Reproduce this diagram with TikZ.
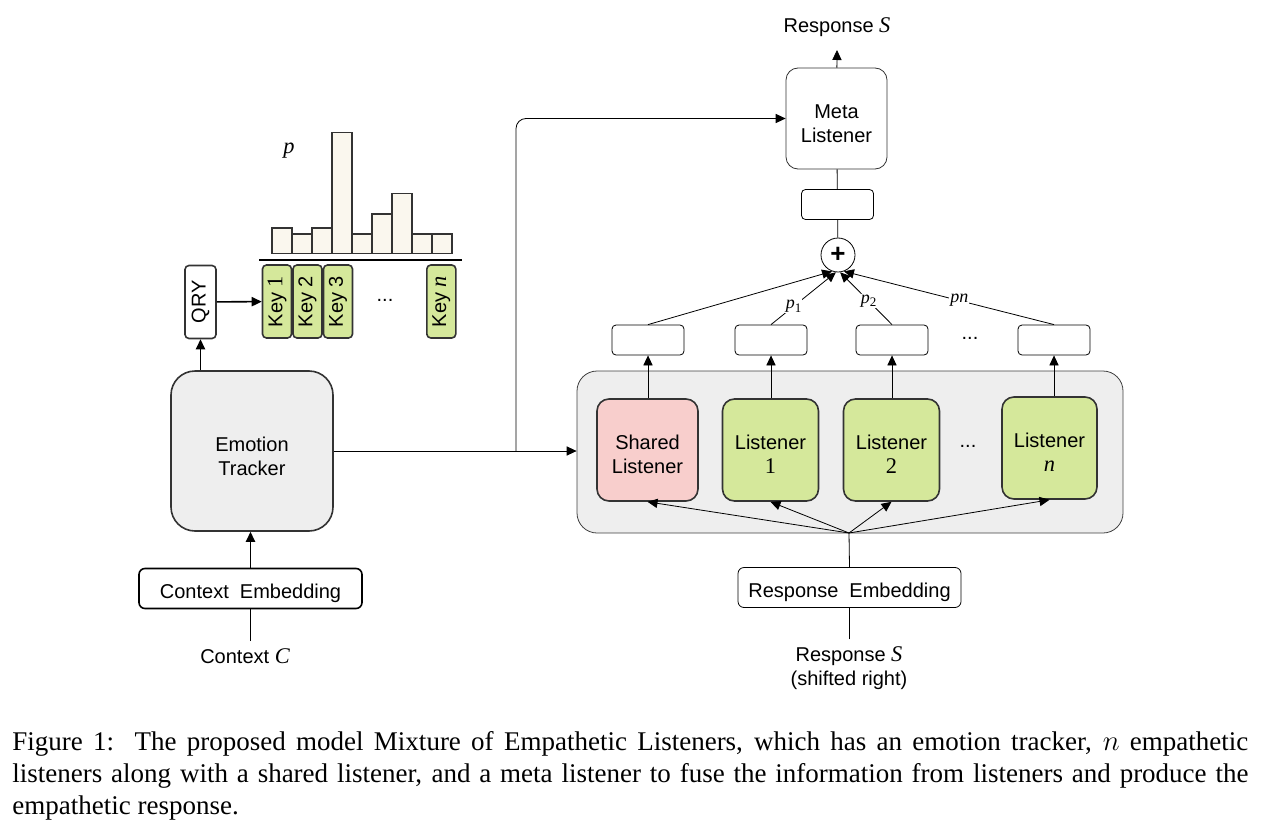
\documentclass[tikz,border=0pt]{standalone}
\usepackage{fontspec}
\setmainfont{Liberation Sans}
\newfontfamily\tms[Scale=1.12]{Liberation Serif}
\newfontfamily\capfont{Liberation Serif}
\usetikzlibrary{arrows.meta,backgrounds}
\definecolor{shared}{HTML}{F8CECC}
\definecolor{expert}{HTML}{D5E89B}
\definecolor{panel}{HTML}{EEEEEE}
\definecolor{cream}{HTML}{FAF7EE}
\tikzset{
  x = 0.5pt, % one unit = one pixel of the figure
  y = -0.5pt, % y grows downwards
  > = {Triangle[length=5pt,width=4.6pt]}, % filled heads
  unit/.style = { % rounded block, argument = fill colour
    draw = black!80,
    fill = #1,
    rounded corners = 6pt,
    align = center,
    inner sep = 0pt,
    text height = 23.6pt, % push the two lines a bit down
    text depth = 0pt,
    minimum width = 50pt,
    minimum height = 51pt,
  },
  slot/.style = { % empty vector box
    draw,
    rounded corners = 2pt,
    minimum width = 36pt,
    minimum height = 15pt,
  },
  embed/.style = { % embedding layer
    draw,
    rounded corners = 3pt,
    text height = 10.2pt,
    text depth = 0pt,
    minimum width = 111.5pt,
    minimum height = 20pt,
  },
  key/.style = { % upright key box, argument = fill colour
    draw = black!80,
    fill = #1,
    rounded corners = 2pt,
    rotate = 90,
    minimum width = 36.5pt,
    minimum height = 14.5pt,
    inner sep = 0pt,
  },
  bar/.style = {draw = black!80, fill = cream}, % histogram bar
  weight/.style = {fill = white, inner sep = 0.5pt}, % label that cuts its line
}
\newcommand{\mv}[1]{{\tms\itshape #1}} % italic serif symbol
\newcommand{\sv}[1]{{\tms #1}} % upright serif digit
\newcommand{\pw}[1]{{\capfont\fontsize{9}{9}\selectfont\itshape p}\raisebox{-1.8pt}{\capfont\fontsize{6.5}{7}\selectfont #1}} % weight p_i

\begin{document}
\begin{tikzpicture}[line width=0.8pt]
    \useasboundingbox (0,0) rectangle (1268,824); % page = reference frame
    % left branch
    \node (cin) at (245,656) {Context \mv{C}}; % input text
    \node[embed] (cemb) at (250.5,588.5) {Context\ \ Embedding};
    \node[unit=panel, minimum width=81pt, minimum height=80pt, rounded corners=12pt, text height=24.2pt] (et) at (252,451) {Emotion\\Tracker};
    \draw (cin.north -| cemb) -- (cemb.south); % plain line in
    \draw[->] (cemb.north) -- (cemb.north |- et.south);
    \node[key=white, minimum height=15.5pt] (qry) at (200.5,302) {QRY}; % query
    \draw[->] (et.north -| qry) -- (qry);
    \foreach \i/\xx/\lab in {1/277/{Key \sv{1}},2/307.5/{Key 2},3/338/{Key 3},n/441.3/{Key \mv{n}}}{ % keys
      \node[key=expert] (key\i) at (\xx,301.5) {\lab};
    } % end loop
    \node (kdots) at (385,300) {...};
    \draw[->] (qry) -- (key1);
    \draw[line width=1pt] (259,260) -- (462,260); % base of the histogram
    \foreach \h [count=\i] in {25.6,19.3,25.6,120.6,19.3,39.3,60,19.3,19.3}{ % bars
      \draw[bar] ({271.7+20*(\i-1)},253.3) rectangle ++(20,-\h);
    } % end loop
    \node (pdist) at (289,151) {\mv{p}};
    % listeners
    \node[unit=shared, minimum width=50.5pt] (ls) at (647.5,450) {Shared\\Listener};
    \foreach \i/\xx in {1/770.5,2/891.5}{ % numbered listeners
      \node[unit=expert, minimum width=48pt] (l\i) at (\xx,450) {Listener\\\sv{\i}};
    } % end loop
    \node[unit=expert, minimum width=47.5pt] (ln) at (1049.5,448) {Listener\\\mv{n}};
    \node (ldots) at (968,446) {...};
    \begin{pgfonlayer}{background} % behind the listeners
      \node[draw=black!75, fill=panel, rounded corners=10pt, minimum width=273pt, minimum height=81pt] (pool) at (850,452) {};
    \end{pgfonlayer}
    \draw[->] (et.east) -- (et.east -| pool.west); % tracker to listeners
    \coordinate (split) at (516,451);
    % meta listener
    \node[unit=white, minimum width=50.5pt, minimum height=50.5pt] (meta) at (836.5,118.5) {Meta\\Listener};
    \draw[->, rounded corners=5pt] (split) |- (meta.west); % branch up
    \node (rout) at (837,27) {Response \mv{S}};
    \coordinate (rtip) at (837,50);
    \draw[->] (meta) -- (rtip); % output
    \node[slot] (fuse) at (837.5,204.5) {};
    \node[circle, draw, minimum size=17pt, inner sep=0pt, font=\fontsize{13}{13}\selectfont\bfseries] (sum) at (838,255) {+};
    \draw (meta) -- (fuse);
    \draw (fuse) -- (sum);
    \foreach \s/\xx in {ls/648,l1/771,l2/892,ln/1054}{ % one vector per listener
      \node[slot] (o\s) at (\xx,340) {};
      \draw[->] (\s.north -| o\s.south) -- (o\s.south);
    } % end loop
    \node (odots) at (970,338) {...};
    \draw[->] (ols.north) -- (sum.250);
    \draw[->] (ol1.north) -- node[weight, pos=.35] {\pw{1}} (sum.263);
    \draw[->] (ol2.north) -- node[weight, pos=.45] {\pw{2}} (sum.277);
    \draw[->] (oln.north) -- node[weight, pos=.45] {{\capfont\fontsize{9}{9}\selectfont\itshape pn}} (sum.290);
    % response input
    \node[align=center] (rin) at (849,668) {Response \mv{S}\\(shifted right)};
    \node[embed] (remb) at (849.5,587.5) {Response\ \ Embedding};
    \coordinate (fan) at (849,533); % spread point
    \draw (rin.north -| remb) -- (remb.south);
    \draw (remb.north) -- (fan);
    \foreach \s in {ls,l1,l2,ln}{ % into each listener
      \draw[->] (fan) -- (\s.south);
    } % end loop
    % caption
    \node[anchor=north west, inner sep=0pt, text width=618pt, align=justify, font=\capfont\fontsize{13.5}{16}\selectfont] (cap) at (12,731) {Figure 1:\ \ The proposed model Mixture of Empathetic Listeners, which has an emotion tracker, $n$ empathetic\linebreak listeners along with a shared listener, and a meta listener to fuse the information from listeners and produce the\linebreak empathetic response.};
  \end{tikzpicture}
\end{document}
